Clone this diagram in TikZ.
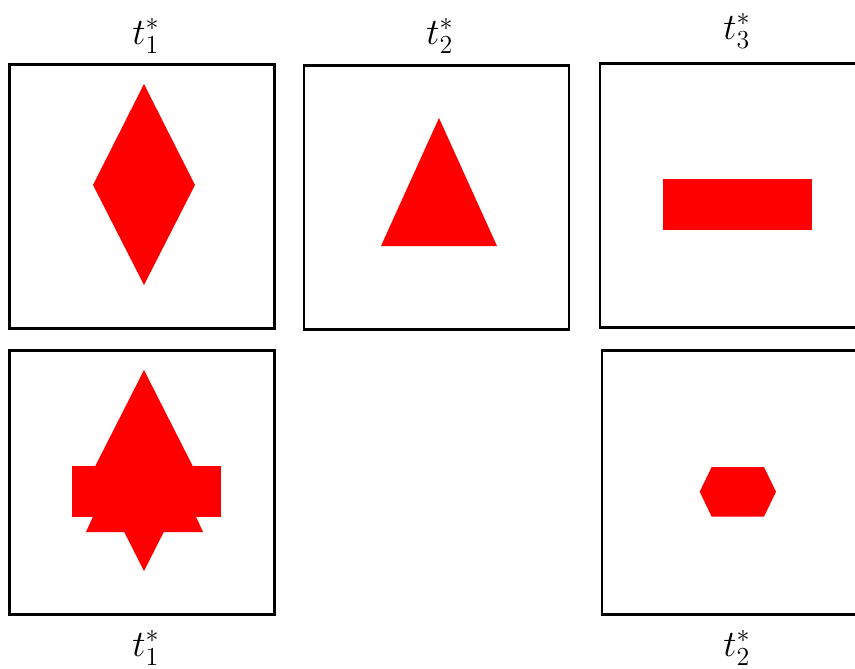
\documentclass[tikz,border=0pt]{standalone}
\newcommand{\biglbl}[1]{\scalebox{1.8}{\huge$#1$}}
\begin{document}
\begin{tikzpicture}[x=1pt,y=-1pt,
  panel/.style={draw=black,line width=2.4pt,fill=none,inner sep=0pt,minimum width=265pt,minimum height=264pt},
  lbl/.style={inner sep=0pt},
  shp/.style={fill=red,draw=none}]
\useasboundingbox (0,0) rectangle (855,669);
\clip (0,0) rectangle (855,669);
% panels
\node[panel] (p1) at (142,196.5) {};
\node[panel] (p2) at (436.5,197.5) {};
\node[panel] (p3) at (732.5,195.5) {};
\node[panel] (p4) at (142,482.5) {};
\node[panel] (p5) at (734.5,482.5) {};
% labels
\node[lbl] (l1) at (146,36) {\biglbl{t_1^*}};
\node[lbl] (l2) at (440,36) {\biglbl{t_2^*}};
\node[lbl] (l3) at (737,31) {\biglbl{t_3^*}};
\node[lbl] (l4) at (146,648) {\biglbl{t_1^*}};
\node[lbl] (l5) at (737,648) {\biglbl{t_2^*}};
% shapes
\fill[shp] (144,84) -- (195,185) -- (144,285) -- (93,185) -- cycle;
\fill[shp] (439,118) -- (497,246) -- (381,246) -- cycle;
\fill[shp] (663,179) rectangle (812,230);
% union in panel 4
\fill[shp] (144,370) -- (195,470.5) -- (144,571) -- (93,470.5) -- cycle;
\fill[shp] (144.5,404) -- (203,532) -- (86,532) -- cycle;
\fill[shp] (72,466) rectangle (221,517);
% hexagon in panel 5
\fill[shp] (699.7,491.7) -- (711.7,467) -- (764,467) -- (776,491.7) -- (764,516.7) -- (711.7,516.7) -- cycle;
\end{tikzpicture}
\end{document}
